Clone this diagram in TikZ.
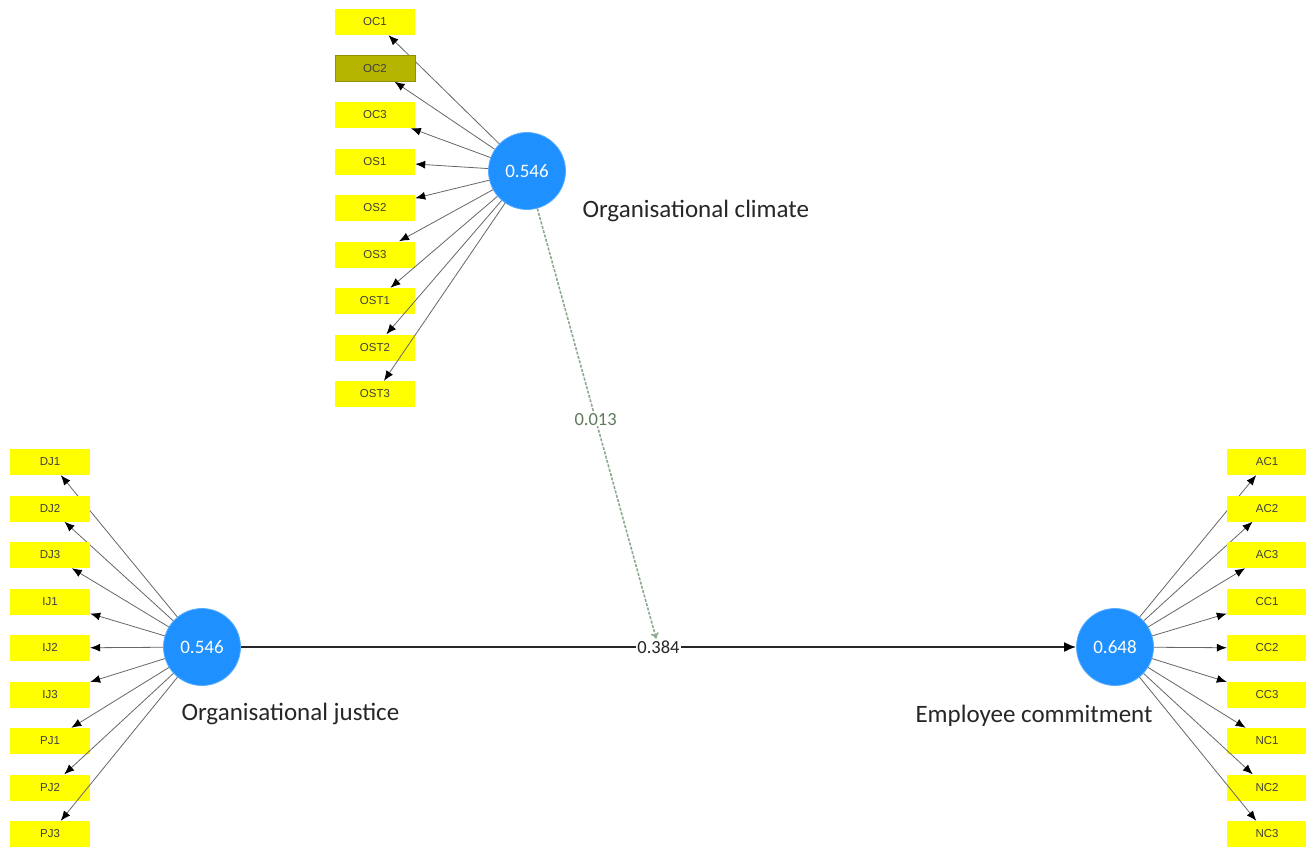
\documentclass[tikz,border=0pt]{standalone}
\usepackage{fontspec}
\setmainfont{Carlito}
\newfontfamily\boxfont{Liberation Sans}
\usetikzlibrary{positioning,arrows.meta}

\definecolor{plsblue}{RGB}{30,144,255}
\definecolor{plsyellow}{RGB}{255,255,0}
\definecolor{plsolive}{RGB}{181,181,0}
\definecolor{modgreen}{RGB}{94,123,94}
\definecolor{modline}{RGB}{143,168,143}

\begin{document}
\begin{tikzpicture}[
		  x=1pt,y=-1pt,
		  lv/.style={circle,fill=plsblue,draw=plsblue!75!white,line width=0.8pt,minimum size=77pt,inner sep=0pt,text=white,font=\fontsize{19}{19}\selectfont},
		  ind/.style={rectangle,fill=plsyellow,minimum width=80pt,minimum height=26pt,inner sep=0pt,text=black!75,font=\boxfont\fontsize{11.5}{11.5}\selectfont},
		  lvname/.style={anchor=base west,text=black!85,font=\fontsize{25}{25}\selectfont},
		  load/.style={draw=black!60,line width=0.8pt,-{Latex[length=10pt,width=8pt,black]}},
		  inner/.style={draw=black!85,line width=1.8pt,-{Latex[length=12pt,width=10pt,black]}},
		  coef/.style={fill=white,inner sep=1pt,text=black!85,font=\fontsize{18.5}{18.5}\selectfont},
		  moder/.style={draw=modline,line width=1.6pt,dash pattern=on 3pt off 1.5pt,-{To[length=6pt,width=8pt]}},
		  modcoef/.style={fill=white,inner sep=1pt,text=modgreen,font=\fontsize{18.5}{18.5}\selectfont}
		]
		\useasboundingbox (0,0) rectangle (1306,846);
		% latent variables
		\node[lv] (OC) at (527,171) {0.546};
		\node[lv] (OJ) at (202,647) {0.546};
		\node[lv] (EC) at (1115,647) {0.648};
		\node[lvname] (OCname) at (579,217) {Organisational climate};
		\node[lvname] (OJname) at (178,720) {Organisational justice};
		\node[lvname] (ECname) at (912,722) {Employee commitment};
		% indicators
		\foreach \name [count=\i from 0] in {OC1,OC2,OC3,OS1,OS2,OS3,OST1,OST2,OST3}
			{\node[ind] (\name) at (375,22+46.5*\i) {\name};
			\path (OC) edge[load] (\name);}
		\node[ind,fill=plsolive,draw=plsolive!80!black,line width=0.8pt] at (OC2) {OC2};
		\foreach \name [count=\i from 0] in {DJ1,DJ2,DJ3,IJ1,IJ2,IJ3,PJ1,PJ2,PJ3}
			{\node[ind] (\name) at (50,462+46.5*\i) {\name};
			\path (OJ) edge[load] (\name);}
		\foreach \name [count=\i from 0] in {AC1,AC2,AC3,CC1,CC2,CC3,NC1,NC2,NC3}
			{\node[ind] (\name) at (1267,462+46.5*\i) {\name};
			\path (EC) edge[load] (\name);}
		% structural paths
		\draw[inner] (OJ) -- node[coef] (mid) {0.384} (EC);
		\draw[moder] (OC) -- node[modcoef,pos=0.49] (modlbl) {0.013} (mid);
		\end{tikzpicture}
\end{document}
